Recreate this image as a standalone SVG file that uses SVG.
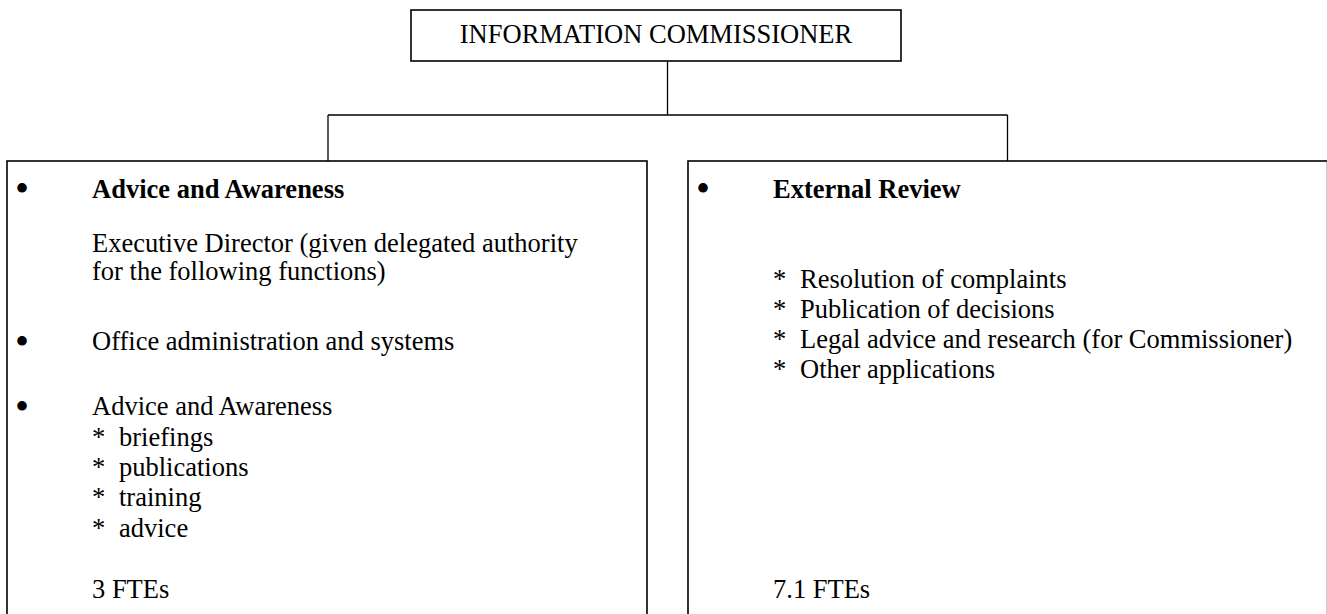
<svg xmlns="http://www.w3.org/2000/svg" width="1327" height="614" viewBox="0 0 1327 614">
<style>
  .box { fill: #ffffff; stroke: #000000; stroke-width: 1.6; }
  .conn { fill: none; stroke: #000000; stroke-width: 1.3; }
  text { font-family: "Liberation Serif", "Times New Roman", serif; font-size: 26.5px; fill: #000000; }
  .b { font-weight: bold; }
  .bul { text-anchor: middle; font-size: 40px; }
  .mid { text-anchor: middle; }
</style>
<rect width="1327" height="614" fill="#ffffff"/>
<g id="connectors">
  <line class="conn" x1="667.5" y1="61" x2="667.5" y2="115"/>
  <line class="conn" x1="328" y1="115" x2="1007.5" y2="115"/>
  <line class="conn" x1="328" y1="115" x2="328" y2="161"/>
  <line class="conn" x1="1007.5" y1="115" x2="1007.5" y2="161"/>
</g>
<g id="node-commissioner">
  <rect class="box" x="411" y="10" width="490" height="51"/>
  <text class="mid" x="656" y="43">INFORMATION COMMISSIONER</text>
</g>
<g id="node-advice">
  <rect class="box" x="7" y="161" width="640" height="480"/>
  <text class="bul" x="22" y="202">•</text>
  <text class="b" x="92" y="198">Advice and Awareness</text>
  <text x="92" y="252">Executive Director (given delegated authority</text>
  <text x="92" y="280">for the following functions)</text>
  <text class="bul" x="22" y="355">•</text>
  <text x="92" y="350">Office administration and systems</text>
  <text class="bul" x="22" y="420">•</text>
  <text x="92" y="415">Advice and Awareness</text>
  <text x="92" y="446">*</text><text x="119" y="446">briefings</text>
  <text x="92" y="476">*</text><text x="119" y="476">publications</text>
  <text x="92" y="506">*</text><text x="119" y="506">training</text>
  <text x="92" y="537">*</text><text x="119" y="537">advice</text>
  <text x="92" y="598">3 FTEs</text>
</g>
<g id="node-review">
  <rect class="box" x="688" y="161" width="639.6" height="480"/>
  <text class="bul" x="703" y="202">•</text>
  <text class="b" x="773" y="198">External Review</text>
  <text x="773" y="288">*</text><text x="800" y="288">Resolution of complaints</text>
  <text x="773" y="318">*</text><text x="800" y="318">Publication of decisions</text>
  <text x="773" y="348">*</text><text x="800" y="348">Legal advice and research (for Commissioner)</text>
  <text x="773" y="378">*</text><text x="800" y="378">Other applications</text>
  <text x="773" y="598">7.1 FTEs</text>
</g>
</svg>
